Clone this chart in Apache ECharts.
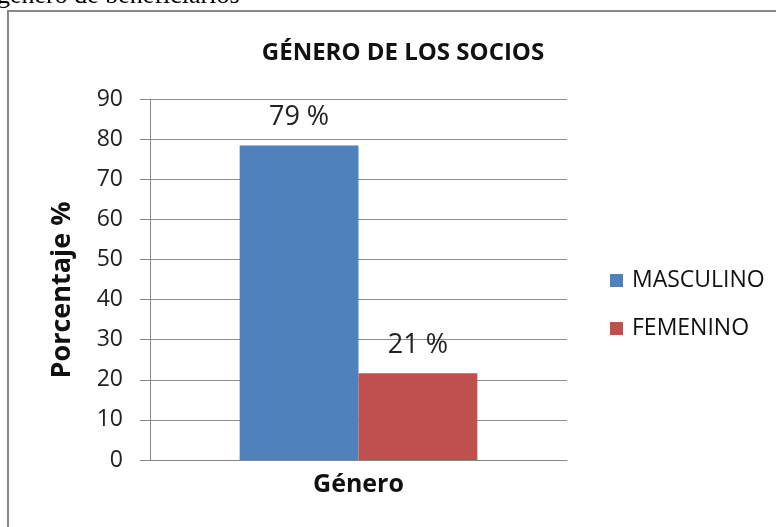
<!DOCTYPE html>
<html>
<head>
<meta charset="utf-8">
<script src="https://cdn.jsdelivr.net/npm/echarts@6/dist/echarts.min.js"></script>
<style>
html,body{margin:0;padding:0;background:#fff;}
#chart{width:776px;height:527px;}
</style>
</head>
<body>
<div id="chart"></div>
<script>
// datos del grafico
var categorias = ['Género'];
var series = ['MASCULINO', 'FEMENINO'];
var masculino = [78.4];
var femenino = [21.6];
var etiquetas = ['79 %', '21 %'];
var colores = ['#4F81BD', '#C0504D'];

var chart = echarts.init(document.getElementById('chart'));
var fuente = 'Open Sans';

function etiqueta(i){
	return {
		show: true,
		position: 'top',
		distance: 15,
		formatter: function(){ return etiquetas[i]; },
		fontFamily: fuente,
		fontSize: 27,
		color: '#222'
	};
}

var option = {
	animation: false,
	title: {
		text: 'GÉNERO DE LOS SOCIOS',
		left: 398,
		textAlign: 'center',
		top: 36,
		textStyle: {fontFamily: fuente, fontWeight: 'bold', fontSize: 24, color: '#111'}
	},
	legend: {
		orient: 'vertical',
		left: 605,
		top: 264,
		itemWidth: 13,
		itemHeight: 13,
		itemGap: 25,
		itemStyle: {borderWidth: 0},
		icon: 'rect',
		data: series,
		textStyle: {fontFamily: fuente, fontSize: 23, color: '#111', padding: [0, 0, 0, 4]}
	},
	grid: {left: 150, right: 209, top: 99, bottom: 67},
	xAxis: {
		type: 'category',
		data: categorias,
		axisLine: {lineStyle: {color: '#888', width: 1}},
		axisTick: {show: false},
		axisLabel: {margin: 12, fontFamily: fuente, fontWeight: 'bold', fontSize: 25, color: '#111'}
	},
	yAxis: {
		type: 'value',
		min: 0,
		max: 90,
		interval: 10,
		axisLine: {show: true, lineStyle: {color: '#888'}},
		axisTick: {show: true, length: 10, lineStyle: {color: '#888'}},
		splitLine: {lineStyle: {color: '#8c8c8c'}},
		axisLabel: {margin: 27, fontFamily: fuente, fontSize: 23, color: '#222'}
	},
	series: [{
		name: series[0],
		type: 'bar',
		data: masculino,
		barGap: '0%',
		barCategoryGap: '43%',
		itemStyle: {color: colores[0]},
		label: etiqueta(0)
	}, {
		name: series[1],
		type: 'bar',
		data: femenino,
		itemStyle: {color: colores[1]},
		label: etiqueta(1)
	}],
	graphic: [{
		type: 'text',
		left: -3,
		top: -17,
		style: {text: 'género de beneficiarios', font: '26px "Liberation Serif"', fill: '#000'}
	}, {
		type: 'polyline',
		shape: {points: [[8, 527], [8, 11], [776, 11]]},
		style: {stroke: '#888', lineWidth: 2, fill: null}
	}, {
		type: 'text',
		x: 62,
		y: 290,
		rotation: Math.PI / 2,
		style: {
			text: 'Porcentaje %',
			font: 'bold 27px "Open Sans"',
			fill: '#111',
			align: 'center',
			verticalAlign: 'middle'
		}
	}]
};
chart.setOption(option);
</script>
</body>
</html>
